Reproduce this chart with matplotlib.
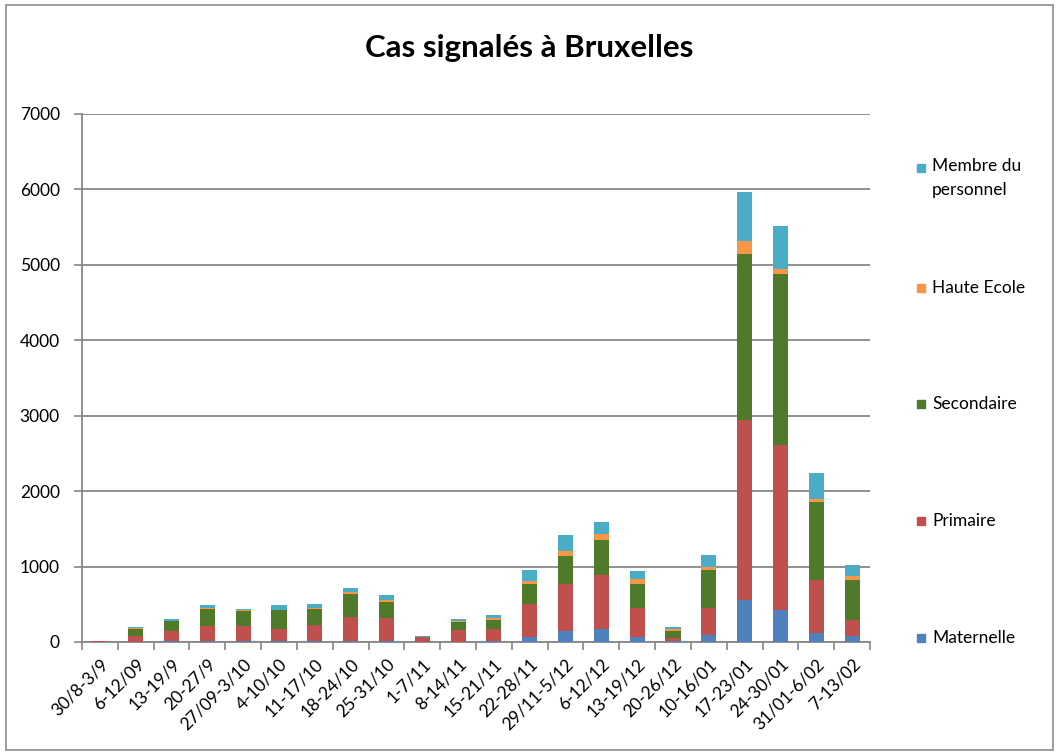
import matplotlib
matplotlib.use("Agg")
import matplotlib.pyplot as plt
import numpy as np
from matplotlib.patches import Rectangle

plt.rcParams["font.family"] = ["Lato", "DejaVu Sans"]

weeks = [
    "30/8-3/9", "6-12/09", "13-19/9", "20-27/9", "27/09-3/10", "4-10/10",
    "11-17/10", "18-24/10", "25-31/10", "1-7/11", "8-14/11", "15-21/11",
    "22-28/11", "29/11-5/12", "6-12/12", "13-19/12", "20-26/12", "10-16/01",
    "17-23/01", "24-30/01", "31/01-6/02", "7-13/02",
]

maternelle = [2, 5, 8, 10, 10, 8, 10, 12, 12, 2, 5, 8,
              65, 143, 176, 64, 10, 88, 552, 418, 117, 73]
primaire = [6, 81, 142, 200, 200, 167, 222, 323, 308, 63, 155, 169,
            443, 632, 709, 386, 40, 362, 2388, 2192, 708, 222]
secondaire = [4, 89, 122, 230, 200, 243, 208, 300, 210, 5, 105, 113,
              267, 365, 465, 325, 100, 500, 2210, 2275, 1030, 530]
haute_ecole = [1, 10, 8, 10, 8, 10, 10, 25, 25, 2, 7, 25,
               30, 67, 80, 65, 20, 45, 160, 55, 45, 45]
personnel = [2, 20, 28, 35, 22, 57, 58, 55, 70, 3, 28, 40,
             145, 218, 167, 100, 27, 155, 655, 570, 335, 155]

series = [
    ("Maternelle", maternelle, "#4F81BD"),
    ("Primaire", primaire, "#C0504D"),
    ("Secondaire", secondaire, "#4E7A2A"),
    ("Haute Ecole", haute_ecole, "#F79646"),
    ("Membre du\npersonnel", personnel, "#4BACC6"),
]

W, H = 1059, 756
fig = plt.figure(figsize=(W / 100, H / 100), dpi=100)
ax = fig.add_axes([82 / W, 1 - 642 / H, (870 - 82) / W, (642 - 114) / H])

x = np.arange(len(weeks))
bottom = np.zeros(len(weeks))
for name, vals, color in series:
    ax.bar(x, vals, width=0.42, bottom=bottom, color=color, label=name, zorder=3)
    bottom += np.array(vals)

ax.set_ylim(0, 7000)
ax.set_xlim(-0.5, len(weeks) - 0.5)
ax.set_yticks(range(0, 7001, 1000))
ax.yaxis.grid(True, color="#878787", linewidth=1.3, zorder=0)
ax.set_axisbelow(True)

ax.set_xticks(x)
ax.set_xticklabels(weeks, rotation=45, ha="right", rotation_mode="anchor", fontsize=12.5)
ax.tick_params(axis="x", length=0, pad=10)
ax.set_xticks(np.arange(-0.5, len(weeks)), minor=True)
ax.tick_params(axis="x", which="minor", length=6, color="#878787", width=1.2)
ax.tick_params(axis="y", length=6, color="#878787", width=1.2, labelsize=12.5, pad=10)

for side in ["top", "right"]:
    ax.spines[side].set_visible(False)
for side in ["left", "bottom"]:
    ax.spines[side].set_color("#878787")
    ax.spines[side].set_linewidth(1.3)

fig.text(0.5, 1 - 57 / H, "Cas signalés à Bruxelles", ha="center", va="baseline",
         fontsize=22.5, fontweight="bold")

# legend entries, spread down the right side like the Excel original
legend_y = [638, 521, 404, 288, 168]
for (name, vals, color), ly in zip(series, legend_y):
    fig.patches.append(Rectangle((917 / W, 1 - (ly + 4) / H), 8 / W, 8 / H,
                                 transform=fig.transFigure, color=color))
    if "\n" in name:
        fig.text(932 / W, 1 - (ly - 10) / H, name, ha="left", va="top",
                 fontsize=12.5, linespacing=1.6)
    else:
        fig.text(932 / W, 1 - ly / H, name, ha="left", va="center", fontsize=12.5)

fig.patches.append(Rectangle((6 / W, 6 / H), 1 - 12 / W, 1 - 11 / H, transform=fig.transFigure,
                             fill=False, edgecolor="#8c8c8c", linewidth=1.2))

fig.savefig("out.png", dpi=100)
